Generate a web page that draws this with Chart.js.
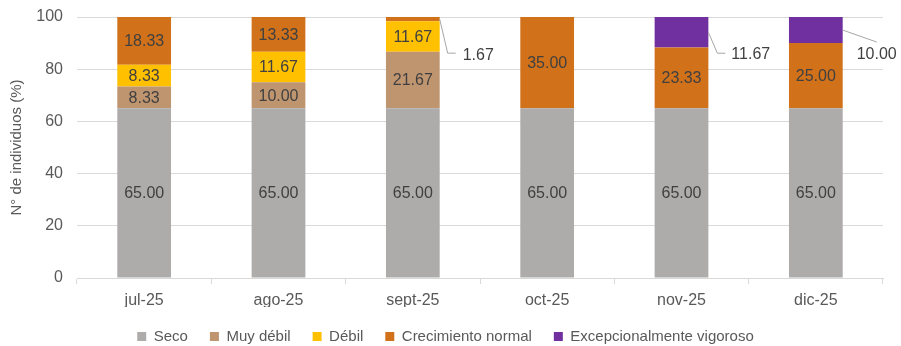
<!DOCTYPE html>
<html>
<head>
<meta charset="utf-8">
<script src="https://cdn.jsdelivr.net/npm/chart.js@4"></script>
<style>
  html, body { margin: 0; padding: 0; background: #fff; }
  #wrap { width: 901px; height: 346px; }
</style>
</head>
<body>
<div id="wrap"><canvas id="c" width="901" height="346"></canvas></div>
<script>
// Monthly vigour classes (% of individuals)
const categories = ['jul-25', 'ago-25', 'sept-25', 'oct-25', 'nov-25', 'dic-25'];
const seco = [65.00, 65.00, 65.00, 65.00, 65.00, 65.00];
const muyDebil = [8.33, 10.00, 21.67, 0, 0, 0];
const debil = [8.33, 11.67, 11.67, 0, 0, 0];
const crecimientoNormal = [18.33, 13.33, 1.67, 35.00, 23.33, 25.00];
const excepcionalmenteVigoroso = [0, 0, 0, 0, 11.67, 10.00];
const seriesNames = ['Seco', 'Muy débil', 'Débil', 'Crecimiento normal', 'Excepcionalmente vigoroso'];
const yTicks = [0, 20, 40, 60, 80, 100];

const colors = ['#AEABAB', '#BF9570', '#FFC000', '#D1711A', '#7030A0'];
const FONT = "'Liberation Sans', Arial, sans-serif";

// Labels of thin segments are drawn beside the bar with a leader line
// (offsets in px from the segment's right edge, vertical middle).
const callouts = [
  { series: 3, index: 2, line: [[0, 0], [8, 34], [16, 34]], text: [23, 36], align: 'left' },
  { series: 4, index: 4, line: [[0, 0], [9, 21], [17, 21]], text: [23, 22], align: 'left' },
  { series: 4, index: 5, line: [[0, 0], [34, 12]], text: [34, 25], align: 'center' }
];

const valueLabels = {
  id: 'valueLabels',
  afterDatasetsDraw(chart) {
    const ctx = chart.ctx;
    ctx.save();
    ctx.font = '16px ' + FONT;
    ctx.fillStyle = '#404040';
    ctx.textBaseline = 'middle';
    chart.data.datasets.forEach((ds, di) => {
      const meta = chart.getDatasetMeta(di);
      meta.data.forEach((el, i) => {
        const v = ds.data[i];
        if (!v) return;
        const midY = (el.y + el.base) / 2;
        const co = callouts.find(c => c.series === di && c.index === i);
        if (co) {
          const x0 = el.x + el.width / 2;
          ctx.strokeStyle = '#A6A6A6';
          ctx.lineWidth = 1;
          ctx.beginPath();
          co.line.forEach((p, k) => {
            if (k === 0) ctx.moveTo(x0 + p[0], midY + p[1]);
            else ctx.lineTo(x0 + p[0], midY + p[1]);
          });
          ctx.stroke();
          ctx.textAlign = co.align;
          ctx.fillText(v.toFixed(2), x0 + co.text[0], midY + co.text[1]);
        } else {
          ctx.textAlign = 'center';
          ctx.fillText(v.toFixed(2), el.x, midY + 1);
        }
      });
    });
    ctx.restore();
  }
};

const seriesData = [seco, muyDebil, debil, crecimientoNormal, excepcionalmenteVigoroso];

new Chart(document.getElementById('c'), {
  type: 'bar',
  data: {
    labels: categories,
    datasets: seriesData.map((d, i) => ({
      label: seriesNames[i],
      data: d,
      backgroundColor: colors[i],
      borderWidth: 0,
      barPercentage: 0.4,
      categoryPercentage: 1.0
    }))
  },
  options: {
    responsive: false,
    animation: false,
    layout: { padding: { top: 17, right: 18, left: 8, bottom: -8 } },
    plugins: {
      tooltip: { enabled: false },
      legend: {
        position: 'bottom',
        labels: {
          color: '#595959',
          font: { family: FONT, size: 15 },
          boxWidth: 9,
          boxHeight: 9,
          padding: 22
        }
      }
    },
    scales: {
      x: {
        stacked: true,
        grid: { display: true, drawOnChartArea: false, offset: true, color: '#D9D9D9', tickLength: 6 },
        border: { color: '#D9D9D9', width: 1 },
        ticks: { color: '#595959', font: { family: FONT, size: 16 }, padding: 7 },
        afterFit(s) { s.height = 29; }
      },
      y: {
        stacked: true,
        min: 0,
        max: 100,
        afterBuildTicks(s) { s.ticks = yTicks.map(v => ({ value: v })); },
        grid: { color: '#D9D9D9', drawTicks: false },
        border: { display: false },
        ticks: { color: '#595959', font: { family: FONT, size: 16 }, padding: 14 },
        title: { display: true, text: 'N° de individuos (%)', color: '#595959', font: { family: FONT, size: 15 }, padding: { top: 0, bottom: 4 } },
        afterFit(s) { s.width = 69; s.paddingTop = 0; s.paddingBottom = 0; }
      }
    }
  },
  plugins: [valueLabels]
});
</script>
</body>
</html>
